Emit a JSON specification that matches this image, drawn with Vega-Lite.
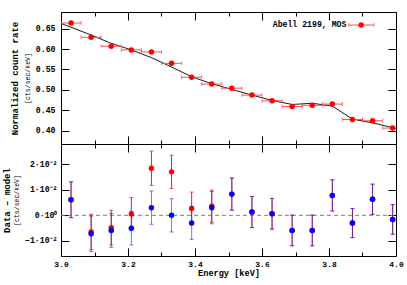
{
  "$schema": "https://vega.github.io/schema/vega-lite/v6.json",
  "padding": {"left": 1, "top": 11, "right": 11, "bottom": 0},
  "autosize": {"type": "pad"},
  "background": "white",
  "spacing": 0,
  "bounds": "flush",
  "config": {
    "view": {"stroke": "black", "strokeWidth": 1},
    "concat": {"spacing": 0},
    "axis": {
      "grid": false, "domain": false,
      "labelFont": "Liberation Mono", "titleFont": "Liberation Mono",
      "labelColor": "black", "titleColor": "black", "tickColor": "black",
      "labelFontSize": 8.2, "labelFontWeight": "bold", "titleFontSize": 9, "titleFontWeight": "bold",
      "minExtent": 0, "tickWidth": 1, "labelFlush": false, "labelOverlap": false, "labelBound": false
    }
  },
  "datasets": {
    "spec": [
      {"e": 3.03, "lo": 3.00, "hi": 3.06, "rate": 0.664},
      {"e": 3.09, "lo": 3.06, "hi": 3.12, "rate": 0.629},
      {"e": 3.15, "lo": 3.12, "hi": 3.18, "rate": 0.607},
      {"e": 3.21, "lo": 3.18, "hi": 3.24, "rate": 0.598},
      {"e": 3.27, "lo": 3.24, "hi": 3.30, "rate": 0.593},
      {"e": 3.33, "lo": 3.30, "hi": 3.36, "rate": 0.565},
      {"e": 3.39, "lo": 3.36, "hi": 3.42, "rate": 0.531},
      {"e": 3.45, "lo": 3.42, "hi": 3.48, "rate": 0.514},
      {"e": 3.51, "lo": 3.48, "hi": 3.54, "rate": 0.504},
      {"e": 3.57, "lo": 3.54, "hi": 3.60, "rate": 0.487},
      {"e": 3.63, "lo": 3.60, "hi": 3.66, "rate": 0.473},
      {"e": 3.69, "lo": 3.66, "hi": 3.72, "rate": 0.459},
      {"e": 3.75, "lo": 3.72, "hi": 3.78, "rate": 0.462},
      {"e": 3.81, "lo": 3.78, "hi": 3.84, "rate": 0.465},
      {"e": 3.87, "lo": 3.84, "hi": 3.90, "rate": 0.427},
      {"e": 3.93, "lo": 3.90, "hi": 3.96, "rate": 0.424},
      {"e": 3.99, "lo": 3.96, "hi": 4.02, "rate": 0.406}
    ],
    "model": [
      {"e": 3.00, "m": 0.663},
      {"e": 3.09, "m": 0.6345},
      {"e": 3.15, "m": 0.614},
      {"e": 3.21, "m": 0.598},
      {"e": 3.27, "m": 0.579},
      {"e": 3.33, "m": 0.556},
      {"e": 3.39, "m": 0.532},
      {"e": 3.45, "m": 0.515},
      {"e": 3.51, "m": 0.501},
      {"e": 3.57, "m": 0.487},
      {"e": 3.63, "m": 0.474},
      {"e": 3.69, "m": 0.464},
      {"e": 3.75, "m": 0.467},
      {"e": 3.81, "m": 0.460},
      {"e": 3.87, "m": 0.428},
      {"e": 3.93, "m": 0.419},
      {"e": 4.00, "m": 0.405}
    ],
    "legend": [
      {"x": 3.896, "lo": 3.859, "hi": 3.934, "y": 0.659, "tx": 3.852, "label": "Abell 2199, MOS"}
    ],
    "red": [
      {"e": 3.03, "r": 0.0061, "lo": -0.0009, "hi": 0.0131},
      {"e": 3.09, "r": -0.0065, "lo": -0.0134, "hi": 0.0004},
      {"e": 3.15, "r": -0.0048, "lo": -0.0116, "hi": 0.0020},
      {"e": 3.21, "r": 0.0005, "lo": -0.0060, "hi": 0.0070},
      {"e": 3.27, "r": 0.0184, "lo": 0.0117, "hi": 0.0251},
      {"e": 3.33, "r": 0.0170, "lo": 0.0105, "hi": 0.0235},
      {"e": 3.39, "r": 0.0027, "lo": -0.0037, "hi": 0.0091},
      {"e": 3.45, "r": 0.0036, "lo": -0.0027, "hi": 0.0099},
      {"e": 3.51, "r": 0.0083, "lo": 0.0020, "hi": 0.0146},
      {"e": 3.57, "r": 0.0013, "lo": -0.0048, "hi": 0.0074},
      {"e": 3.63, "r": 0.0006, "lo": -0.0054, "hi": 0.0066},
      {"e": 3.69, "r": -0.0059, "lo": -0.0119, "hi": 0.0001},
      {"e": 3.75, "r": -0.0059, "lo": -0.0119, "hi": 0.0001},
      {"e": 3.81, "r": 0.0078, "lo": 0.0017, "hi": 0.0139},
      {"e": 3.87, "r": -0.0030, "lo": -0.0087, "hi": 0.0027},
      {"e": 3.93, "r": 0.0063, "lo": 0.0004, "hi": 0.0122},
      {"e": 3.99, "r": -0.0016, "lo": -0.0074, "hi": 0.0042}
    ],
    "blue": [
      {"e": 3.03, "r": 0.0061, "lo": -0.0009, "hi": 0.0131},
      {"e": 3.09, "r": -0.0072, "lo": -0.0141, "hi": -0.0003},
      {"e": 3.15, "r": -0.0059, "lo": -0.0125, "hi": 0.0007},
      {"e": 3.21, "r": -0.0050, "lo": -0.0116, "hi": 0.0016},
      {"e": 3.27, "r": 0.0030, "lo": -0.0035, "hi": 0.0095},
      {"e": 3.33, "r": 0.0000, "lo": -0.0065, "hi": 0.0065},
      {"e": 3.39, "r": -0.0030, "lo": -0.0094, "hi": 0.0034},
      {"e": 3.45, "r": 0.0030, "lo": -0.0033, "hi": 0.0093},
      {"e": 3.51, "r": 0.0083, "lo": 0.0020, "hi": 0.0146},
      {"e": 3.57, "r": 0.0013, "lo": -0.0048, "hi": 0.0074},
      {"e": 3.63, "r": 0.0006, "lo": -0.0054, "hi": 0.0066},
      {"e": 3.69, "r": -0.0059, "lo": -0.0119, "hi": 0.0001},
      {"e": 3.75, "r": -0.0059, "lo": -0.0119, "hi": 0.0001},
      {"e": 3.81, "r": 0.0078, "lo": 0.0017, "hi": 0.0139},
      {"e": 3.87, "r": -0.0030, "lo": -0.0087, "hi": 0.0027},
      {"e": 3.93, "r": 0.0063, "lo": 0.0004, "hi": 0.0122},
      {"e": 3.99, "r": -0.0016, "lo": -0.0074, "hi": 0.0042}
    ]
  },
  "vconcat": [
    {
      "width": 335, "height": 132,
      "resolve": {"axis": {"x": "independent", "y": "independent"}},
      "layer": [
        {
          "data": {"name": "model"},
          "mark": {"type": "line", "color": "black", "strokeWidth": 0.9},
          "encoding": {
            "x": {"field": "e", "type": "quantitative", "scale": {"domain": [3, 4], "nice": false, "zero": false},
              "axis": {"orient": "bottom", "values": [3.0, 3.2, 3.4, 3.6, 3.8, 4.0], "labels": false, "tickSize": -8, "title": null}},
            "y": {"field": "m", "type": "quantitative", "scale": {"domain": [0.367, 0.691], "nice": false, "zero": false},
              "axis": {"orient": "left", "values": [0.40, 0.45, 0.50, 0.55, 0.60, 0.65], "format": ".2f", "ticks": false, "tickSize": 0, "labelPadding": 6, "title": "Normalized count rate", "titleX": -42, "titleY": 66}}
          }
        },
        {
          "data": {"name": "spec"},
          "mark": {"type": "rule", "color": "#ff4d4d", "strokeWidth": 1, "clip": true},
          "encoding": {
            "x": {"field": "lo", "type": "quantitative",
              "axis": {"orient": "top", "values": [3.0, 3.2, 3.4, 3.6, 3.8, 4.0], "labels": false, "tickSize": -8, "title": null}},
            "x2": {"field": "hi"},
            "y": {"field": "rate", "type": "quantitative",
              "axis": {"orient": "right", "values": [0.40, 0.45, 0.50, 0.55, 0.60, 0.65], "labels": false, "tickSize": -8, "title": null}}
          }
        },
        {
          "data": {"name": "spec"},
          "mark": {"type": "tick", "orient": "vertical", "color": "#ff4d4d", "size": 4, "thickness": 1, "clip": true},
          "encoding": {
            "x": {"field": "lo", "type": "quantitative", "axis": null},
            "y": {"field": "rate", "type": "quantitative", "axis": null}
          }
        },
        {
          "data": {"name": "spec"},
          "mark": {"type": "tick", "orient": "vertical", "color": "#ff4d4d", "size": 4, "thickness": 1, "clip": true},
          "encoding": {
            "x": {"field": "hi", "type": "quantitative", "axis": null},
            "y": {"field": "rate", "type": "quantitative", "axis": null}
          }
        },
        {
          "data": {"name": "spec"},
          "mark": {"type": "point", "filled": true, "color": "#ff0000", "size": 30, "opacity": 1},
          "encoding": {
            "x": {"field": "e", "type": "quantitative",
              "axis": {"orient": "bottom", "values": [3.1, 3.3, 3.5, 3.7, 3.9], "labels": false, "tickSize": -4, "title": null}},
            "y": {"field": "rate", "type": "quantitative",
              "axis": {"orient": "left", "values": [0.40, 0.45, 0.50, 0.55, 0.60, 0.65], "labels": false, "tickSize": -8, "title": null}}
          }
        },
        {
          "data": {"name": "legend"},
          "mark": {"type": "text", "align": "right", "baseline": "middle", "font": "Liberation Mono", "fontSize": 8.2, "fontWeight": "bold", "color": "black"},
          "encoding": {
            "x": {"field": "tx", "type": "quantitative",
              "axis": {"orient": "top", "values": [3.1, 3.3, 3.5, 3.7, 3.9], "labels": false, "tickSize": -4, "title": null}},
            "y": {"field": "y", "type": "quantitative",
              "axis": {"orient": "left", "labels": false, "ticks": false, "title": "[cts/sec/keV]", "titleFontSize": 6.5, "titleFontWeight": "normal", "titleX": -31, "titleY": 66}},
            "text": {"field": "label"}
          }
        },
        {
          "data": {"name": "legend"},
          "mark": {"type": "rule", "color": "#ff4d4d", "strokeWidth": 1},
          "encoding": {
            "x": {"field": "lo", "type": "quantitative", "axis": null},
            "x2": {"field": "hi"},
            "y": {"field": "y", "type": "quantitative", "axis": null}
          }
        },
        {
          "data": {"name": "legend"},
          "mark": {"type": "tick", "orient": "vertical", "color": "#ff4d4d", "size": 4, "thickness": 1},
          "encoding": {
            "x": {"field": "lo", "type": "quantitative", "axis": null},
            "y": {"field": "y", "type": "quantitative", "axis": null}
          }
        },
        {
          "data": {"name": "legend"},
          "mark": {"type": "tick", "orient": "vertical", "color": "#ff4d4d", "size": 4, "thickness": 1},
          "encoding": {
            "x": {"field": "hi", "type": "quantitative", "axis": null},
            "y": {"field": "y", "type": "quantitative", "axis": null}
          }
        },
        {
          "data": {"name": "legend"},
          "mark": {"type": "point", "filled": true, "color": "#ff0000", "size": 30, "opacity": 1},
          "encoding": {
            "x": {"field": "x", "type": "quantitative", "axis": null},
            "y": {"field": "y", "type": "quantitative", "axis": null}
          }
        }
      ]
    },
    {
      "width": 335, "height": 112,
      "resolve": {"axis": {"x": "independent", "y": "independent"}},
      "layer": [
        {
          "data": {"values": [{}]},
          "mark": {"type": "rule", "color": "#808080", "strokeDash": [4, 3], "strokeWidth": 1},
          "encoding": {
            "x": {"datum": 3, "type": "quantitative", "scale": {"domain": [3, 4], "nice": false, "zero": false},
              "axis": {"orient": "top", "values": [3.1, 3.3, 3.5, 3.7, 3.9], "labels": false, "tickSize": -4, "title": null}},
            "x2": {"datum": 4},
            "y": {"datum": 0, "type": "quantitative", "scale": {"domain": [-0.0159, 0.0279], "nice": false, "zero": false},
              "axis": {"orient": "left", "values": [-0.01, 0, 0.01, 0.02], "ticks": false, "tickSize": 0, "labelPadding": 4,
                "labelExpr": "datum.value == 0 ? '0·10⁰' : format(round(datum.value*100), 'd') + '·10⁻²'",
                "title": "Data – model", "titleX": -50, "titleY": 56}}
          }
        },
        {
          "data": {"name": "red"},
          "mark": {"type": "rule", "color": "#e82020", "strokeWidth": 1},
          "encoding": {
            "x": {"field": "e", "type": "quantitative",
              "axis": {"orient": "bottom", "values": [3.0, 3.2, 3.4, 3.6, 3.8, 4.0], "format": ".1f", "ticks": false, "tickSize": 0, "labelPadding": 4, "labelFontSize": 8, "title": "Energy [keV]", "titleFontSize": 8.6, "titlePadding": 0.5}},
            "y": {"field": "lo", "type": "quantitative",
              "axis": {"orient": "left", "values": [-0.01, 0, 0.01, 0.02], "labels": false, "tickSize": -8, "title": null}},
            "y2": {"field": "hi"}
          }
        },
        {
          "data": {"name": "red"},
          "mark": {"type": "tick", "orient": "horizontal", "color": "#e82020", "size": 4, "thickness": 1},
          "encoding": {
            "x": {"field": "e", "type": "quantitative", "axis": null},
            "y": {"field": "lo", "type": "quantitative", "axis": null}
          }
        },
        {
          "data": {"name": "red"},
          "mark": {"type": "tick", "orient": "horizontal", "color": "#e82020", "size": 4, "thickness": 1},
          "encoding": {
            "x": {"field": "e", "type": "quantitative", "axis": null},
            "y": {"field": "hi", "type": "quantitative", "axis": null}
          }
        },
        {
          "data": {"name": "red"},
          "mark": {"type": "point", "filled": true, "color": "#ff0000", "size": 30, "opacity": 1},
          "encoding": {
            "x": {"field": "e", "type": "quantitative",
              "axis": {"orient": "bottom", "values": [3.0, 3.2, 3.4, 3.6, 3.8, 4.0], "labels": false, "tickSize": -8, "title": null}},
            "y": {"field": "r", "type": "quantitative",
              "axis": {"orient": "right", "values": [-0.01, 0, 0.01, 0.02], "labels": false, "tickSize": -8, "title": null}}
          }
        },
        {
          "data": {"name": "blue"},
          "mark": {"type": "rule", "color": "#2020e0", "strokeWidth": 1, "opacity": 0.6},
          "encoding": {
            "x": {"field": "e", "type": "quantitative",
              "axis": {"orient": "bottom", "values": [3.1, 3.3, 3.5, 3.7, 3.9], "labels": false, "tickSize": -4, "title": null}},
            "y": {"field": "lo", "type": "quantitative",
              "axis": {"orient": "left", "labels": false, "ticks": false, "title": "[cts/sec/keV]", "titleFontSize": 6.5, "titleFontWeight": "normal", "titleX": -42, "titleY": 56}},
            "y2": {"field": "hi"}
          }
        },
        {
          "data": {"name": "blue"},
          "mark": {"type": "tick", "orient": "horizontal", "color": "#2020e0", "size": 4, "thickness": 1, "opacity": 0.6},
          "encoding": {
            "x": {"field": "e", "type": "quantitative", "axis": null},
            "y": {"field": "lo", "type": "quantitative", "axis": null}
          }
        },
        {
          "data": {"name": "blue"},
          "mark": {"type": "tick", "orient": "horizontal", "color": "#2020e0", "size": 4, "thickness": 1, "opacity": 0.6},
          "encoding": {
            "x": {"field": "e", "type": "quantitative", "axis": null},
            "y": {"field": "hi", "type": "quantitative", "axis": null}
          }
        },
        {
          "data": {"name": "blue"},
          "mark": {"type": "point", "filled": true, "color": "#0000ff", "size": 30, "opacity": 1},
          "encoding": {
            "x": {"field": "e", "type": "quantitative",
              "axis": {"orient": "top", "values": [3.0, 3.2, 3.4, 3.6, 3.8, 4.0], "labels": false, "tickSize": -8, "title": null}},
            "y": {"field": "r", "type": "quantitative", "axis": null}
          }
        }
      ]
    }
  ]
}
